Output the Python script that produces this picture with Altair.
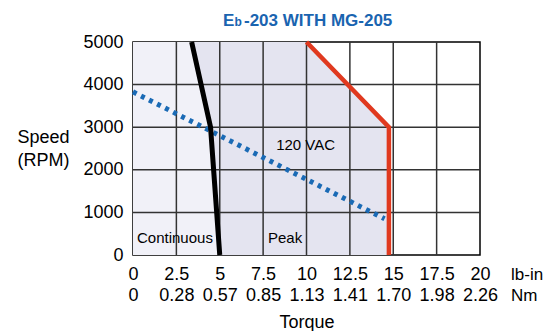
import altair as alt
import pandas as pd

# ---- data ----
title_parts = ["E", "b", "-203 WITH MG-205"]
lbin_ticks = [0, 2.5, 5, 7.5, 10, 12.5, 15, 17.5, 20]
nm_labels = ["0", "0.28", "0.57", "0.85", "1.13", "1.41", "1.70", "1.98", "2.26"]
speed_ticks = [0, 1000, 2000, 3000, 4000, 5000]
grid_x = [2.5, 5, 7.5, 10, 12.5, 15, 17.5]
grid_y = [1000, 2000, 3000, 4000]

curve_speed = [0, 3000, 5000]
continuous_torque = [5.0, 4.47, 3.38]
peak_torque = [14.75, 14.75, 10.0]

vac_torque = [0, 14.5]
vac_speed = [3830, 850]

label_text = ["Continuous", "Peak", "120 VAC"]
label_torque = [0.23, 7.78, 8.25]
label_speed = [400, 400, 2580]

unit_text = ["lb-in", "Nm"]

FONT = "Liberation Sans, Arial, Helvetica, sans-serif"

curves = pd.DataFrame({
    "speed": curve_speed,
    "zero": [0] * len(curve_speed),
    "cont": continuous_torque,
    "peak": peak_torque,
})
vac = pd.DataFrame({"torque": vac_torque, "speed": vac_speed})
labels = pd.DataFrame({"t": label_text, "torque": label_torque, "speed": label_speed})
gx = pd.DataFrame({"v": grid_x})
gy = pd.DataFrame({"v": grid_y})

xs = alt.Scale(domain=[0, 20], nice=False, zero=False)
ys = alt.Scale(domain=[0, 5000], nice=False)

nm_arr = "[" + ",".join("'" + s + "'" for s in nm_labels) + "]"
x_axis = alt.Axis(
    values=lbin_ticks, grid=False, ticks=False, domain=False,
    labelExpr="['' + datum.value, " + nm_arr + "[round(datum.value / 2.5)]]",
    labelFont=FONT, labelFontSize=18, labelColor="black", labelLineHeight=21,
    labelPadding=10, labelFlush=False, labelOverlap=False, labelBound=False,
    labelAlign="center", labelBaseline="top",
    title="Torque", titleFont=FONT, titleFontSize=18, titleFontWeight="normal",
    titleColor="black", titleY=67, titleBaseline="middle",
)
y_axis = alt.Axis(
    values=speed_ticks, grid=False, ticks=False, domain=False, format="d",
    labelFont=FONT, labelFontSize=18, labelColor="black", labelPadding=10,
    labelFlush=False, labelOverlap=False,
    title=["Speed", "(RPM)"], titleFont=FONT, titleFontSize=18,
    titleFontWeight="normal", titleColor="black", titleAngle=0,
    titleAlign="center", titleBaseline="middle", titleLineHeight=23,
    titleX=-90, titleY=95,
)


def X(f):
    return alt.X(f, scale=xs, axis=x_axis)


def Y(f):
    return alt.Y(f, scale=ys, axis=y_axis)


cont_area = alt.Chart(curves).mark_area(orient="horizontal", color="#f1f1f8").encode(
    y=Y("speed:Q"), x=X("zero:Q"), x2="cont:Q",
)
peak_area = alt.Chart(curves).mark_area(orient="horizontal", color="#e4e4f0").encode(
    y=Y("speed:Q"), x=X("cont:Q"), x2="peak:Q",
)
grid_v = alt.Chart(gx).mark_rule(color="#333333", strokeWidth=1.5).encode(x=X("v:Q"))
grid_h = alt.Chart(gy).mark_rule(color="#333333", strokeWidth=1.5).encode(y=Y("v:Q"))
vac_line = alt.Chart(vac).mark_line(
    color="#1a6ab5", strokeWidth=5, strokeDash=[4, 5], strokeCap="butt"
).encode(x=X("torque:Q"), y=Y("speed:Q"))
cont_line = alt.Chart(curves).mark_line(color="black", strokeWidth=5).encode(
    x=X("cont:Q"), y=Y("speed:Q"), order="speed:Q",
)
peak_line = alt.Chart(curves).mark_line(color="#e0391f", strokeWidth=4.5).encode(
    x=X("peak:Q"), y=Y("speed:Q"), order="speed:Q",
)
text_layer = alt.Chart(labels).mark_text(
    align="left", baseline="middle", font=FONT, fontSize=15, color="black"
).encode(x=X("torque:Q"), y=Y("speed:Q"), text="t:N")

units = alt.Chart(pd.DataFrame({"u": unit_text, "py": [233, 254]})).mark_text(
    align="left", baseline="middle", font=FONT, fontSize=17, color="black"
).encode(x=alt.value(378), y=alt.Y("py:Q", scale=None), text="u:N")

title_df = pd.DataFrame({
    "t": title_parts,
    "px": [90, 101.5, 111],
    "fs": [17, 12, 17],
})
title_layer = alt.Chart(title_df).mark_text(
    align="left", baseline="alphabetic", font=FONT,
    fontWeight="bold", color="#1a64b0",
).encode(
    x=alt.X("px:Q", scale=None),
    y=alt.value(-16),
    size=alt.Size("fs:Q", scale=None),
    text="t:N",
)

chart = alt.layer(
    cont_area, peak_area, grid_v, grid_h, vac_line, cont_line, peak_line,
    text_layer, units, title_layer,
).properties(
    width=347, height=213,
    autosize=alt.AutoSizeParams(type="none"),
    padding={"left": 125, "top": 34, "right": 67, "bottom": 76},
).configure_view(stroke="black", strokeWidth=1.5, fill="white")

chart.save("out.html", embed_options={"renderer": "svg", "actions": False})
